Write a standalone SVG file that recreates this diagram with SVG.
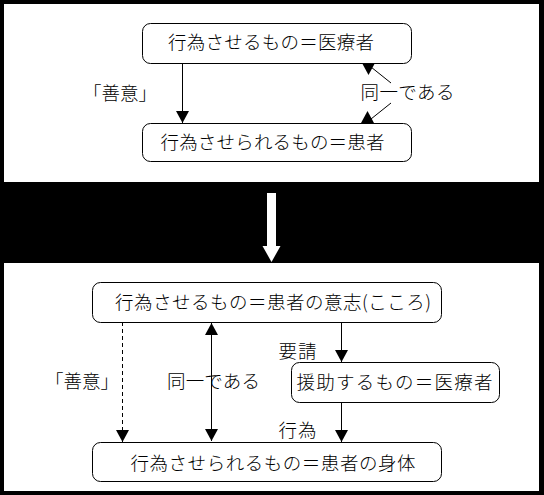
<svg xmlns="http://www.w3.org/2000/svg" width="544" height="495" viewBox="0 0 544 495">
<style>
.box{fill:#fff;stroke:#000;stroke-width:1}
.t{font-family:"Noto Sans CJK JP","Noto Sans",sans-serif;font-size:18.5px;font-weight:300;fill:#000}
.ln{stroke:#000;stroke-width:1;fill:none}
.dash{stroke-dasharray:4 3}
.ah{fill:#000;stroke:none}
</style>
<defs>
<marker id="arr" markerUnits="userSpaceOnUse" markerWidth="13" markerHeight="13" refX="12" refY="6.5" orient="auto-start-reverse">
<path d="M0,0 L12,6.5 L0,13 z" fill="#000"/>
</marker>
</defs>
<rect x="0" y="0" width="544" height="495" fill="#000"/>
<rect x="4" y="4" width="535" height="178" fill="#fff"/>
<rect x="4" y="263" width="535" height="228" fill="#fff"/>
<g id="transition">
<rect x="267" y="193" width="9" height="54" fill="#fff"/>
<polygon points="262.5,246 280.5,246 271.5,262" fill="#fff"/>
</g>
<g id="connectors">
<line class="ln" x1="182.5" y1="63" x2="182.5" y2="123" marker-end="url(#arr)"/>
<line class="ln" x1="391" y1="83" x2="371" y2="67"/>
<polygon class="ah" points="362,63 375,63 368.5,75"/>
<line class="ln" x1="391" y1="103" x2="371" y2="119"/>
<polygon class="ah" points="361,123 374,123 367.5,111"/>
<line class="ln dash" x1="122.5" y1="322" x2="122.5" y2="442" marker-end="url(#arr)"/>
<line class="ln" x1="211.5" y1="323" x2="211.5" y2="441" marker-start="url(#arr)" marker-end="url(#arr)"/>
<line class="ln" x1="341.5" y1="322" x2="341.5" y2="362" marker-end="url(#arr)"/>
<line class="ln" x1="341.5" y1="402" x2="341.5" y2="442" marker-end="url(#arr)"/>
</g>
<g id="top-doer">
<rect class="box" x="142.5" y="23.5" width="269" height="40" rx="8"/>
<text class="t" x="168" y="49" textLength="206" lengthAdjust="spacing">行為させるもの＝医療者</text>
</g>
<g id="top-receiver">
<rect class="box" x="142.5" y="123.5" width="269" height="38" rx="8"/>
<text class="t" x="160.5" y="149" textLength="224" lengthAdjust="spacing">行為させられるもの＝患者</text>
</g>
<g id="top-labels">
<text class="t" x="83" y="100" textLength="74" lengthAdjust="spacing">「善意」</text>
<text class="t" x="360.5" y="99" textLength="94" lengthAdjust="spacing">同一である</text>
</g>
<g id="bottom-will">
<rect class="box" x="92.5" y="282.5" width="349" height="40" rx="8"/>
<text class="t" x="115" y="309" textLength="316" lengthAdjust="spacing">行為させるもの＝患者の意志(こころ)</text>
</g>
<g id="bottom-helper">
<rect class="box" x="291.5" y="362.5" width="208" height="40" rx="8"/>
<text class="t" x="296.5" y="389" textLength="196" lengthAdjust="spacing">援助するもの＝医療者</text>
</g>
<g id="bottom-body">
<rect class="box" x="92.5" y="442.5" width="349" height="39" rx="8"/>
<text class="t" x="130.5" y="470" textLength="285" lengthAdjust="spacing">行為させられるもの＝患者の身体</text>
</g>
<g id="bottom-labels">
<text class="t" x="45" y="388" textLength="74" lengthAdjust="spacing">「善意」</text>
<text class="t" x="167" y="388" textLength="93" lengthAdjust="spacing">同一である</text>
<text class="t" x="278.5" y="357.5" textLength="38" lengthAdjust="spacing">要請</text>
<text class="t" x="278.5" y="437" textLength="38" lengthAdjust="spacing">行為</text>
</g>
</svg>
